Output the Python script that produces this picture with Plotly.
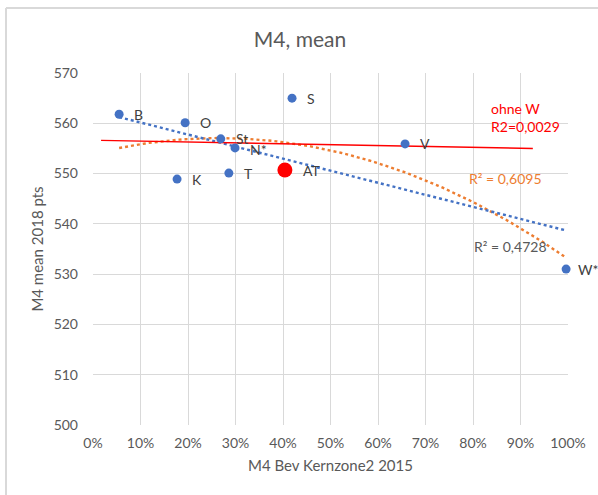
import numpy as np
import plotly.graph_objects as go

# Data
labels = ["B", "O", "S", "St", "N*", "V", "K", "T", "AT", "W*"]
kernzone = [0.055, 0.194, 0.419, 0.269, 0.299, 0.657, 0.177, 0.286, 0.404, 0.996]
mean_pts = [561.8, 560.1, 565.0, 556.9, 555.1, 555.9, 548.9, 550.1, 550.7, 531.0]
highlight = "AT"

# manually drawn "ohne W" line (endpoints)
ohne_w_x = [0.017, 0.926]
ohne_w_y = [556.6, 555.0]

y_ticks = [500, 510, 520, 530, 540, 550, 560, 570]
x_ticks = [0, 0.1, 0.2, 0.3, 0.4, 0.5, 0.6, 0.7, 0.8, 0.9, 1.0]

FONT = "Lato"
GRAY = "#595959"

x = np.array(kernzone)
y = np.array(mean_pts)
xs = np.linspace(x.min(), x.max(), 120)
lin = np.polyfit(x, y, 1)
quad = np.polyfit(x, y, 2)

is_hl = np.array([l == highlight for l in labels])

fig = go.Figure()
fig.add_trace(go.Scatter(x=xs, y=np.polyval(quad, xs), mode="lines",
                         line=dict(color="#ED7D31", width=2.4, dash="dot"),
                         hoverinfo="skip", showlegend=False))
fig.add_trace(go.Scatter(x=xs, y=np.polyval(lin, xs), mode="lines",
                         line=dict(color="#4472C4", width=2.4, dash="dot"),
                         hoverinfo="skip", showlegend=False))
fig.add_trace(go.Scatter(x=ohne_w_x, y=ohne_w_y, mode="lines",
                         line=dict(color="#FF0000", width=1.4),
                         showlegend=False))
fig.add_trace(go.Scatter(x=x[~is_hl], y=y[~is_hl], mode="markers",
                         marker=dict(color="#4472C4", size=9),
                         cliponaxis=False, showlegend=False))
fig.add_trace(go.Scatter(x=x[is_hl], y=y[is_hl], mode="markers",
                         marker=dict(color="#FF0000", size=15),
                         cliponaxis=False, showlegend=False))

# point labels, placed to the right of each marker
shift = {"AT": 16, "W*": 10}
for lab, xv, yv in zip(labels, kernzone, mean_pts):
    fig.add_annotation(x=xv, y=yv, xref="x", yref="y", text=lab,
                       showarrow=False, xanchor="left", yanchor="middle",
                       xshift=shift.get(lab, 13),
                       yshift=-2 if lab == "N*" else 0,
                       font=dict(family=FONT, size=14, color="#404040"))

# body margin is removed below, so figure pixels == page pixels
OFF = 0
W, H = 598 - OFF, 495 - OFF
L, T = 93 - OFF, 73 - OFF
R = W - (568 - OFF)
B = H - (425 - OFF)
pw, ph = W - L - R, H - T - B

def px(page_x):
    return (page_x - OFF - L) / pw

def py(page_y):
    return (H - B - (page_y - OFF)) / ph

fig.add_annotation(x=px(489), y=py(117), xref="paper", yref="paper",
                   text="ohne W<br>R2=0,0029",
                   showarrow=False, align="left", xanchor="left", yanchor="middle",
                   font=dict(family=FONT, size=14, color="#FF0000"))
fig.add_annotation(x=px(505), y=py(178), xref="paper", yref="paper",
                   text="R² = 0,6095",
                   showarrow=False, xanchor="center", yanchor="middle",
                   font=dict(family=FONT, size=14, color="#ED7D31"))
fig.add_annotation(x=px(510), y=py(246), xref="paper", yref="paper",
                   text="R² = 0,4728",
                   showarrow=False, xanchor="center", yanchor="middle",
                   font=dict(family=FONT, size=14, color=GRAY))

fig.update_layout(
    width=W, height=H,
    margin=dict(l=L, r=R, t=T, b=B, autoexpand=False),
    paper_bgcolor="white", plot_bgcolor="white",
    title=dict(text="M4, mean", x=(300 - OFF) / W, xanchor="center",
               y=1 - (40 - OFF) / H, yanchor="middle",
               font=dict(family=FONT, size=21, color=GRAY)),
    xaxis=dict(range=[0, 1], tickvals=x_ticks, tickformat=".0%",
               showgrid=True, gridcolor="#d9d9d9", gridwidth=1,
               zeroline=False, showline=False, ticks="",
               ticklabelstandoff=8,
               tickfont=dict(family=FONT, size=14, color=GRAY),
               title=dict(text="M4 Bev Kernzone2 2015", standoff=10,
                          font=dict(family=FONT, size=15, color=GRAY))),
    yaxis=dict(range=[500, 570], tickvals=y_ticks,
               showgrid=True, gridcolor="#d9d9d9", gridwidth=1,
               zeroline=False, showline=False, ticks="",
               ticklabelstandoff=14,
               tickfont=dict(family=FONT, size=14, color=GRAY),
               title=dict(text="M4 mean 2018 pts", standoff=6,
                          font=dict(family=FONT, size=15, color=GRAY))),
    shapes=[
        dict(type="line", xref="paper", yref="paper", x0=px(6), x1=px(6),
             y0=py(8), y1=py(495), line=dict(color="#d9d9d9", width=2)),
        dict(type="line", xref="paper", yref="paper", x0=px(6), x1=px(598),
             y0=py(8), y1=py(8), line=dict(color="#d9d9d9", width=2)),
    ],
)

fig.write_html("out.html",
               config={"displayModeBar": False},
               post_script="document.body.style.margin='0';"
                           "document.body.style.overflow='hidden';")
